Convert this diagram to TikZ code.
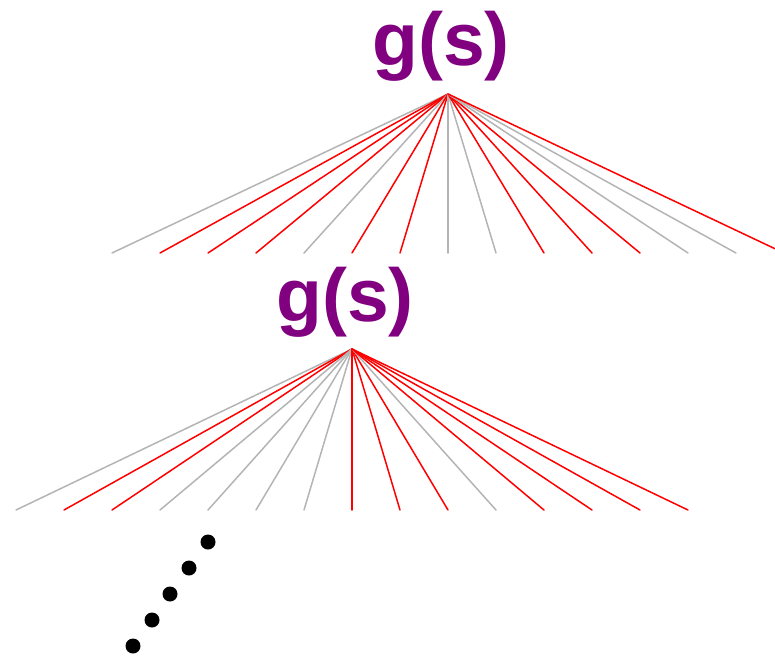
\documentclass[tikz,border=0pt]{standalone}
\usepackage{fontspec}
\setmainfont{Liberation Sans}
\definecolor{gsviolet}{RGB}{128,0,128}
\definecolor{fangray}{RGB}{180,180,180}
\begin{document}
\begin{tikzpicture}[x=1pt,y=-1pt,line cap=round,line join=round,
	gs/.style={font=\fontsize{75}{78}\selectfont\bfseries,text=gsviolet,inner sep=0pt,anchor=base},
	fang/.style={color=fangray,line width=1.5pt},
	fanr/.style={color=red,line width=1.5pt}]
				\clip (0,0) rectangle (775,659);
				% upper fan
				\node[gs] (gtop) at (441,65) {g(s)};
				\coordinate (atop) at (448,94);
				\foreach \c [count=\i from 0] in {g,r,r,r,g,r,r,g,g,r,r,r,g,g,r}
				{\coordinate (t\i) at ({112+48*\i},253);
				\draw[fan\c] (atop)--(t\i);}
				% lower fan
				\node[gs] (gbot) at (345,321) {g(s)};
				\coordinate (abot) at (352,349);
				\foreach \c [count=\i from 0] in {g,r,r,g,g,g,g,r,r,r,g,r,r,r,r}
				{\coordinate (b\i) at ({16+48*\i},510);
				\draw[fan\c] (abot)--(b\i);}
				% dots
				\foreach \x/\y in {208/542,189/568,170/594,152/620,133/646}
				\fill (\x,\y) circle (7.5pt);
\end{tikzpicture}
\end{document}
